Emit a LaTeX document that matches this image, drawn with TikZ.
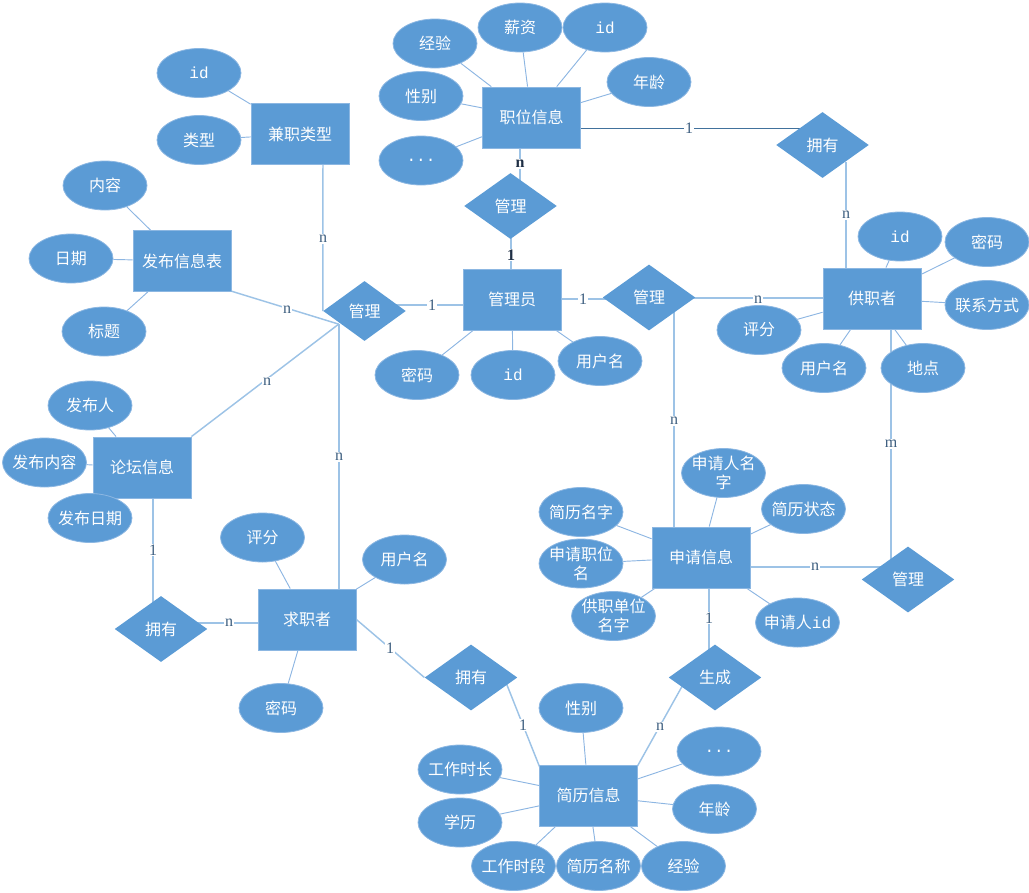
\documentclass[tikz,border=0pt]{standalone}
\usepackage{fontspec}
\newfontfamily\cjk{Noto Sans CJK SC}
\newfontfamily\mono{Liberation Mono}
\newfontfamily\lblfont{Liberation Serif}
\usetikzlibrary{shapes.geometric,calc}
\pgfdeclarelayer{bg}
\pgfsetlayers{bg,main}
\definecolor{fillb}{HTML}{5B9BD5}
\definecolor{edgeb}{HTML}{8CB7E2}
\definecolor{linec}{HTML}{9DC3E6}
\definecolor{attrl}{HTML}{8DB6E2}
\definecolor{darkl}{HTML}{41719C}
\definecolor{lblc}{HTML}{3E5F80}
\definecolor{lbld}{HTML}{1F2F45}
\begin{document}
\begin{tikzpicture}[x=0.75pt,y=-0.75pt,
  txt/.style={text=white, font=\cjk\fontsize{12}{14.25}\selectfont},
  ent/.style={txt, rectangle, fill=fillb, draw=edgeb, line width=0.6pt,
    minimum width=73.5pt, minimum height=45.75pt, inner sep=0pt},
  attr/.style={txt, ellipse, fill=fillb, draw=edgeb, line width=0.6pt,
    minimum width=63pt, minimum height=36.75pt, inner xsep=-4pt, inner ysep=-2pt, align=center},
  rel/.style={txt, diamond, fill=fillb, minimum width=69.5pt, minimum height=49.5pt, inner sep=0pt},
  conn/.style={draw=linec, line width=1.1pt},
  aline/.style={draw=attrl, line width=0.7pt},
  dline/.style={draw=darkl, line width=0.7pt},
  lbl/.style={fill=white, inner sep=0.8pt, text=lblc, font=\lblfont\fontsize{12}{12}\selectfont},
  lblb/.style={lbl, text=lbld, font=\lblfont\bfseries\fontsize{12}{12}\selectfont}
]
\useasboundingbox (0,0) rectangle (1029,893);

% entities
\node[ent] (zw) at (531.5,117.5) {职位信息};
\node[ent] (jz) at (300,134) {兼职类型};
\node[ent] (fb) at (182,261) {发布信息表};
\node[ent] (gly) at (512,299.5) {管理员};
\node[ent] (gz) at (872,298.5) {供职者};
\node[ent] (lt) at (142,467.5) {论坛信息};
\node[ent] (qz) at (307,619.5) {求职者};
\node[ent] (sq) at (701,557.5) {申请信息};
\node[ent] (jl) at (588.5,795.5) {简历信息};

% relations
\node[rel] (r1) at (510.5,206) {管理};
\node[rel] (r2) at (822.5,145) {拥有};
\node[rel, minimum width=62pt, minimum height=45pt] (r3) at (364.5,311) {管理};
\node[rel] (r4) at (649,297.5) {管理};
\node[rel] (r5) at (908,579.5) {管理};
\node[rel] (r6) at (161,629) {拥有};
\node[rel] (r7) at (471,677.5) {拥有};
\node[rel] (r8) at (715,677.5) {生成};

% attributes of 职位信息
\node[attr] (a1) at (435,43.5) {经验};
\node[attr] (a2) at (520,27.5) {薪资};
\node[attr] (a3) at (605,27.5) {\mono id};
\node[attr] (a4) at (649,82) {年龄};
\node[attr] (a5) at (421,96) {性别};
\node[attr] (a6) at (421,160.5) {\mono ...};
% 兼职类型
\node[attr] (b1) at (199,73) {\mono id};
\node[attr] (b2) at (199,140) {类型};
% 发布信息表
\node[attr] (c1) at (105,185.5) {内容};
\node[attr] (c2) at (71,258.5) {日期};
\node[attr] (c3) at (104,331.5) {标题};
% 管理员
\node[attr] (d1) at (417,375) {密码};
\node[attr] (d2) at (513,375) {\mono id};
\node[attr] (d3) at (600,361) {用户名};
% 供职者
\node[attr] (e1) at (900,236.5) {\mono id};
\node[attr] (e2) at (987,242) {密码};
\node[attr] (e3) at (987,305) {联系方式};
\node[attr] (e4) at (759,330) {评分};
\node[attr] (e5) at (824,368) {用户名};
\node[attr] (e6) at (923,368) {地点};
% 论坛信息
\node[attr] (f1) at (90,405.5) {发布人};
\node[attr] (f2) at (44.5,462.5) {发布内容};
\node[attr] (f3) at (90,518) {发布日期};
% 求职者
\node[attr] (g1) at (262.5,537.5) {评分};
\node[attr] (g2) at (404.5,559.5) {用户名};
\node[attr] (g3) at (281,708) {密码};
% 申请信息
\node[attr] (h1) at (723.5,473) {申请人名\\字};
\node[attr] (h2) at (581,512) {简历名字};
\node[attr] (h3) at (803.5,509) {简历状态};
\node[attr] (h4) at (581,563.5) {申请职位\\名};
\node[attr] (h5) at (613.5,616) {供职单位\\名字};
\node[attr] (h6) at (797.5,622.5) {申请人{\mono id}};
% 简历信息
\node[attr] (k1) at (581,708) {性别};
\node[attr] (k2) at (719,751.5) {\mono ...};
\node[attr] (k3) at (460,769.5) {工作时长};
\node[attr] (k4) at (714.5,809) {年龄};
\node[attr] (k5) at (460,822.5) {学历};
\node[attr] (k6) at (513.5,866) {工作时段};
\node[attr] (k7) at (598.5,866) {简历名称};
\node[attr] (k8) at (683.5,866) {经验};

\coordinate (cv) at ($(r3.south west)+(-5,-2)$);
\coordinate (q3) at ($(qz.center)+(32,0)$);

\begin{pgfonlayer}{bg}
  % attribute lines
  \foreach \a in {a1,a2,a3,a4,a5,a6} \draw[aline] (\a) -- (zw);
  \foreach \a in {b1,b2} \draw[aline] (\a) -- (jz);
  \foreach \a in {c1,c2,c3} \draw[aline] (\a) -- (fb);
  \foreach \a in {d1,d2,d3} \draw[aline] (\a) -- (gly);
  \foreach \a in {e1,e2,e3,e4,e5,e6} \draw[aline] (\a) -- (gz);
  \foreach \a in {f1,f2,f3} \draw[aline] (\a) -- (lt);
  \foreach \a in {g1,g2,g3} \draw[aline] (\a) -- (qz);
  \foreach \a in {h1,h2,h3,h4,h5,h6} \draw[aline] (\a) -- (sq);
  \foreach \a in {k1,k2,k3,k4,k5,k6,k7,k8} \draw[aline] (\a) -- (jl);
  % relationship connectors
  \draw[dline] ($(zw.center)+(0,10.5)$) -- ($(r2.center)+(0,-17)$);
  \draw[conn] (r2.south east) -- (r2.south east |- gz.center);
  \draw[conn] ($(zw.center)+(-11.5,0)$) -- ($(r1.center)+(9.5,0)$);
  \draw[conn] ($(r1.center)+(0.5,0)$) -- ($(gly.center)+(-1,0)$);
  \draw[conn] ($(gly.center)+(0,5.5)$) -- ($(r3.center)+(0,-6)$);
  \draw[conn] ($(gly.center)+(0,-0.5)$) -- ($(r4.center)+(0,1.5)$);
  \draw[conn] ($(r4.center)+(0,0.5)$) -- ($(gz.center)+(0,-0.5)$);
  \draw[conn] ($(r4.center)+(25,0)$) -- ($(sq.center)+(-27,0)$);
  \draw[conn] ($(gz.center)+(19,0)$) -- ($(r5.center)+(-17,0)$);
  \draw[conn] ($(sq.center)+(0,9.5)$) -- ($(r5.center)+(0,-12.5)$);
  \draw[conn] ($(sq.center)+(8,0)$) -- ($(r8.center)+(-6,0)$);
  \draw[conn] ($(r8.center)+(-28,0)$) -- ($(jl.center)+(32.5,0)$);
  \draw[conn] ($(r7.center)+(33,0)$) -- ($(jl.center)+(-37.5,0)$);
  \draw[conn] (qz.east) -- (r7.west);
  \draw[conn] ($(qz.center)+(0,3.5)$) -- ($(r6.center)+(0,-6)$);
  \draw[conn] ($(lt.center)+(11,0)$) -- ($(r6.center)+(-8,0)$);
  \draw[conn] ($(jz.center)+(23,0)$) -- (r3.west);
  \draw[conn] ($(fb.center)+(0,15)$) -- (cv);
  \draw[conn] (lt.north east) -- (cv);
  \draw[conn] (q3) -- (q3 |- cv);
\end{pgfonlayer}

% cardinality labels
\node[lbl] (l1) at (689,128) {1};
\node[lbl] (l2) at (846,215) {n};
\node[lblb] (l3) at (520,164) {n};
\node[lblb] (l4) at (511,255) {1};
\node[lbl] (l5) at (432,305) {1};
\node[lbl] (l6) at (583,299) {1};
\node[lbl] (l7) at (758,300) {n};
\node[lbl] (l8) at (674,421) {n};
\node[lbl] (l9) at (891,444) {m};
\node[lbl] (l10) at (815,567) {n};
\node[lbl] (l11) at (709,618) {1};
\node[lbl] (l12) at (660,727) {n};
\node[lbl] (l13) at (523,725) {1};
\node[lbl] (l14) at (390,648) {1};
\node[lbl] (l15) at (229,623) {n};
\node[lbl] (l16) at (153,550) {1};
\node[lbl] (l17) at (323,239) {n};
\node[lbl] (l18) at (287,310) {n};
\node[lbl] (l19) at (267,382) {n};
\node[lbl] (l20) at (339,457) {n};
\end{tikzpicture}
\end{document}
